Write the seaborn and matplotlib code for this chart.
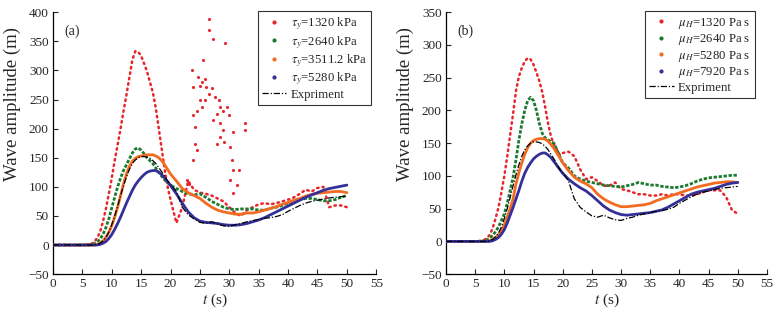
import matplotlib
matplotlib.use("Agg")
import matplotlib.pyplot as plt
from matplotlib.lines import Line2D
import seaborn as sns

# time samples (s): 1 s steps, 0.5 s steps through the wave peak, then 1 s steps
T = [0, 1, 2, 3, 4, 5, 6,
     6.5, 7, 7.5, 8, 8.5, 9, 9.5, 10, 10.5, 11, 11.5, 12, 12.5, 13, 13.5, 14,
     14.5, 15, 15.5, 16, 16.5, 17, 17.5, 18, 18.5, 19, 19.5, 20,
     21, 22, 23, 24, 25, 26, 27, 28, 29, 30, 31, 32, 33, 34, 35, 36, 37, 38, 39, 40,
     41, 42, 43, 44, 45, 46, 47, 48, 49, 50]

EXPERIMENT = [0, 0, 0, 0, 0, 0, 0,
              0, 0, 1, 3, 7, 13, 22, 35, 50, 67, 85, 102, 117, 130, 140, 146,
              150, 152, 152, 151, 149, 145, 140, 133, 126, 118, 110, 105,
              92, 65, 52, 45, 39, 37, 40, 36, 33, 32, 35, 37, 40, 42, 44, 46, 47, 49, 52, 58,
              63, 68, 72, 75, 77, 79, 81, 82, 83, 84]

# (a) yield stress runs
TAU_LABELS = [r"$\tau_y$=1320 kPa", r"$\tau_y$=2640 kPa",
              r"$\tau_y$=3511.2 kPa", r"$\tau_y$=5280 kPa"]
TAU_1320 = [0, 0, 0, 0, 0, 0, 1,
            2, 5, 12, 22, 40, 62, 88, 115, 145, 172, 200, 230, 258, 288, 318, 333,
            332, 325, 312, 298, 280, 262, 235, 200, 165, 130, 100, 78,
            38, 65, 110, 95, 90, 88, 85, 80, 75, 65, 55, 50, 60, 65, 70, 72, 70, 72, 75, 78,
            82, 88, 95, 92, 98, 100, 65, 68, 68, 65]
TAU_2640 = [0, 0, 0, 0, 0, 0, 0,
            1, 2, 5, 10, 18, 30, 45, 64, 82, 100, 115, 128, 138, 148, 158, 165,
            167, 163, 157, 150, 145, 140, 132, 125, 118, 112, 107, 103,
            97, 92, 88, 86, 88, 82, 75, 70, 65, 62, 61, 62, 62, 62, 60, 60, 63, 65, 68, 72,
            75, 78, 80, 80, 78, 76, 76, 78, 82, 85]
TAU_3511 = [0, 0, 0, 0, 0, 0, 0,
            0, 0, 1, 3, 7, 13, 22, 33, 48, 65, 85, 105, 122, 135, 144, 149,
            152, 153, 154, 155, 155, 155, 153, 150, 145, 138, 130, 122,
            110, 97, 90, 85, 80, 72, 65, 60, 57, 55, 53, 53, 55, 55, 57, 60, 63, 66, 70, 73,
            77, 80, 84, 87, 89, 90, 91, 92, 92, 90]
TAU_5280 = [0, 0, 0, 0, 0, 0, 0,
            0, 0, 0, 1, 3, 6, 11, 18, 27, 37, 48, 60, 72, 83, 94, 103,
            110, 116, 121, 125, 127, 128, 128, 125, 121, 115, 109, 102,
            88, 72, 57, 47, 41, 39, 38, 37, 35, 34, 34, 35, 37, 40, 43, 47, 52, 57, 62, 67,
            72, 77, 82, 86, 90, 94, 97, 99, 101, 103]
# scattered splash points of the 1320 kPa run
SPLASH_T = [23.6, 26.6, 26.5, 27.3, 29.3, 25.6, 24.7, 25.3, 25.9, 26.1, 26.5, 27.0,
            27.6, 28.2, 28.4, 29.0, 29.6, 29.9, 27.9, 27.3, 28.4, 29.0, 28.4, 29.1,
            27.9, 30.1, 30.7, 30.1, 30.7, 31.6, 31.3, 32.7, 32.7, 30.7, 23.9, 24.2,
            24.2, 24.5, 23.9, 25.0, 25.3, 24.5, 25.9, 30.4, 23.9, 25.0, 22.8, 23.2]
SPLASH_V = [300, 389, 369, 354, 347, 318, 289, 280, 286, 271, 260, 269,
            254, 249, 237, 231, 237, 223, 226, 214, 209, 197, 186, 177,
            174, 169, 129, 111, 89, 129, 103, 209, 197, 194, 223, 203,
            174, 163, 146, 249, 237, 231, 249, 146, 271, 274, 112, 105]

# (b) viscosity runs
MU_LABELS = [r"$\mu_H$=1320 Pa s", r"$\mu_H$=2640 Pa s",
             r"$\mu_H$=5280 Pa s", r"$\mu_H$=7920 Pa s"]
MU_1320 = [0, 0, 0, 0, 0, 0, 1,
           2, 5, 10, 20, 35, 52, 75, 100, 130, 163, 195, 230, 252, 265, 275, 280,
           278, 270, 258, 245, 228, 205, 180, 160, 148, 140, 132, 135,
           137, 130, 110, 95, 98, 92, 85, 85, 90, 80, 78, 75, 72, 72, 70, 70, 72, 70, 72, 72,
           70, 70, 72, 75, 78, 78, 78, 68, 48, 42]
MU_2640 = [0, 0, 0, 0, 0, 0, 0,
           1, 2, 5, 9, 15, 22, 32, 42, 58, 78, 98, 125, 155, 180, 200, 215,
           220, 215, 200, 180, 165, 158, 155, 152, 150, 140, 130, 120,
           112, 100, 95, 92, 90, 88, 86, 85, 84, 83, 85, 87, 90, 88, 86, 86, 84, 83, 82, 83,
           85, 88, 92, 95, 97, 98, 99, 100, 101, 101]
MU_5280 = [0, 0, 0, 0, 0, 0, 0,
           0, 0, 1, 3, 6, 10, 16, 25, 37, 50, 65, 88, 105, 120, 133, 143,
           150, 154, 156, 157, 157, 156, 153, 148, 142, 135, 128, 120,
           108, 98, 92, 88, 82, 72, 65, 60, 56, 53, 53, 54, 55, 56, 58, 62, 65, 68, 71, 74,
           77, 80, 83, 85, 87, 89, 90, 91, 91, 90]
MU_7920 = [0, 0, 0, 0, 0, 0, 0,
           0, 0, 0, 1, 3, 6, 11, 18, 28, 40, 52, 65, 78, 92, 104, 113,
           120, 126, 130, 133, 135, 135, 132, 128, 122, 116, 110, 104,
           95, 88, 82, 77, 70, 62, 54, 48, 44, 41, 40, 41, 42, 43, 44, 46, 48, 52, 57, 62,
           67, 72, 75, 77, 79, 81, 84, 87, 89, 90]

RED, GREEN, ORANGE, NAVY = "#e8252b", "#1b7a30", "#f26b21", "#33309a"
COLORS = [RED, GREEN, ORANGE, NAVY]
EXP_DASH = (0, (5, 1.5, 1, 1.5))

sns.set_theme(style="ticks")
plt.rcParams["font.family"] = ["Liberation Serif", "DejaVu Serif"]
plt.rcParams["mathtext.fontset"] = "stix"

fig = plt.figure(figsize=(7.79, 3.14), dpi=100)
ax_a = fig.add_axes([0.068, 0.127, 0.415, 0.834])
ax_b = fig.add_axes([0.5725, 0.127, 0.412, 0.834])


def draw_panel(ax, series, labels, tag, ymax, leg_x):
    # first run dotted (scattered dots), the others dense enough to read as lines
    sns.lineplot(x=T, y=series[0], ax=ax, color=COLORS[0], linewidth=1.8,
                 linestyle=(0, (0.6, 1.6)), dash_capstyle="round", zorder=2)
    sns.lineplot(x=T, y=series[1], ax=ax, color=COLORS[1], linewidth=2.0,
                 linestyle=(0, (1.2, 0.6)), zorder=3)
    sns.lineplot(x=T, y=series[2], ax=ax, color=COLORS[2], linewidth=2.0, zorder=4)
    sns.lineplot(x=T, y=series[3], ax=ax, color=COLORS[3], linewidth=2.0, zorder=5)
    sns.lineplot(x=T, y=EXPERIMENT, ax=ax, color="black", linewidth=0.9,
                 linestyle=EXP_DASH, zorder=6)

    ax.set_xlim(0, 55)
    ax.set_ylim(-50, ymax)
    ax.set_xticks(range(0, 56, 5))
    ax.set_yticks(range(-50, ymax + 1, 50))
    ax.tick_params(direction="in", length=3.5, width=0.8, labelsize=9.5, pad=3)
    for side in ("top", "right"):
        ax.spines[side].set_visible(False)
    for side in ("left", "bottom"):
        ax.spines[side].set_linewidth(0.9)
        ax.spines[side].set_color("black")
    ax.set_xlabel("$t$ (s)", fontsize=11, labelpad=1)
    ax.set_ylabel("Wave amplitude (m)", fontsize=13.5)
    ax.yaxis.set_label_coords(-0.1, 0.65)
    ax.text(0.035, 0.955, tag, transform=ax.transAxes, fontsize=10, va="top")

    handles = [Line2D([], [], marker="o", markersize=2.0, linestyle="none", color=c)
               for c in COLORS]
    handles.append(Line2D([], [], color="black", linewidth=0.9, linestyle=EXP_DASH))
    leg = ax.legend(handles, labels + ["Expriment"], loc="upper right",
                    bbox_to_anchor=(leg_x, 1.004), borderaxespad=0, fontsize=9.2,
                    frameon=True, fancybox=False, edgecolor="black", handlelength=1.9,
                    handletextpad=0.35, labelspacing=0.12, borderpad=0.35)
    leg.get_frame().set_linewidth(0.8)


draw_panel(ax_a, [TAU_1320, TAU_2640, TAU_3511, TAU_5280], TAU_LABELS, "(a)", 400, 0.985)
sns.scatterplot(x=SPLASH_T, y=SPLASH_V, ax=ax_a, color=RED, s=5, linewidth=0, zorder=2)
draw_panel(ax_b, [MU_1320, MU_2640, MU_5280, MU_7920], MU_LABELS, "(b)", 350, 0.963)

fig.savefig("out.png", dpi=100)
